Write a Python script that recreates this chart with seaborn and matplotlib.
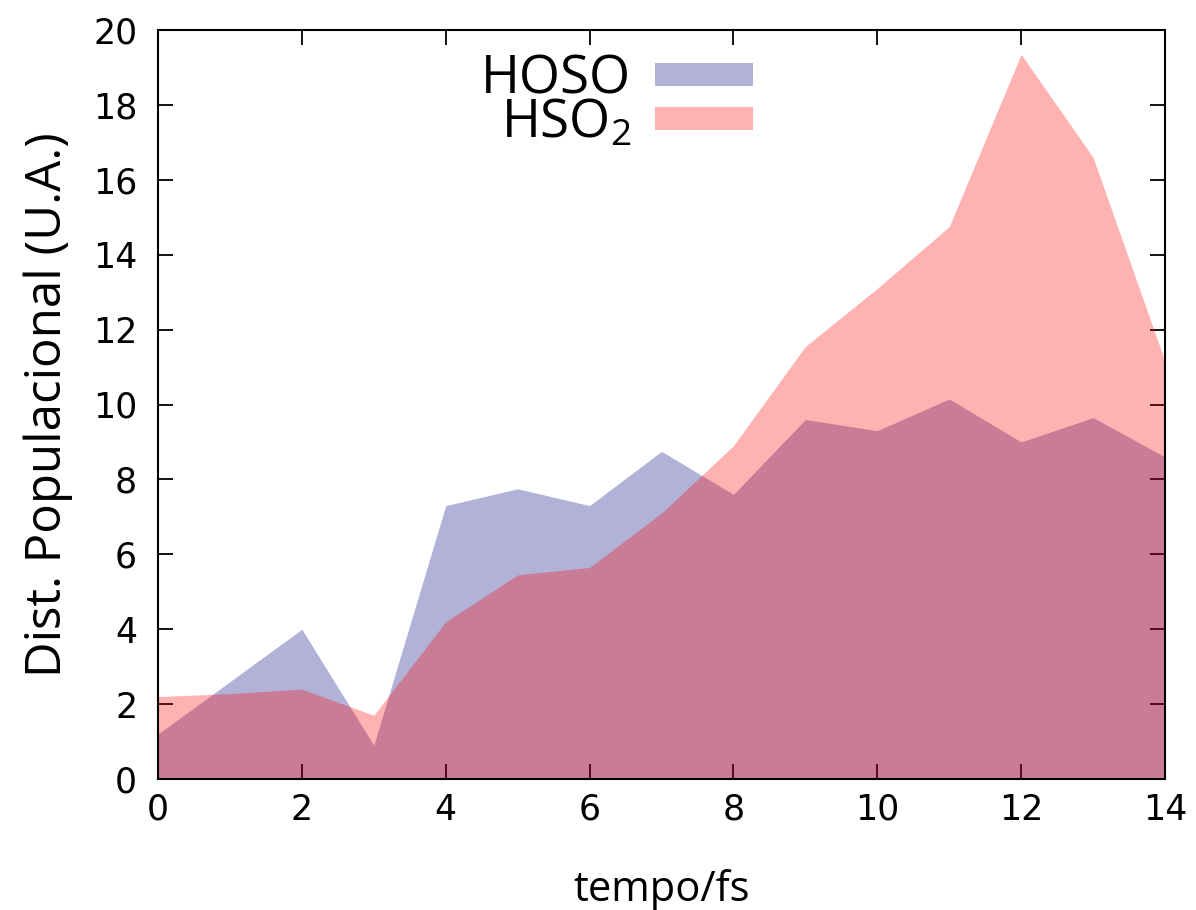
import matplotlib
matplotlib.use("Agg")
import matplotlib.pyplot as plt
from matplotlib.patches import Patch
import seaborn as sns
import pandas as pd

tempo = [0, 1, 2, 3, 4, 5, 6, 7, 8, 9, 10, 11, 12, 13, 14]
hoso = [1.2, 2.6, 4.0, 0.9, 7.3, 7.75, 7.3, 8.75, 7.6, 9.6, 9.3, 10.15, 9.0, 9.65, 8.6]
hso2 = [2.2, 2.28, 2.4, 1.7, 4.2, 5.45, 5.65, 7.1, 8.9, 11.55, 13.1, 14.75, 19.35, 16.6, 11.15]
xticks = [0, 2, 4, 6, 8, 10, 12, 14]
yticks = [0, 2, 4, 6, 8, 10, 12, 14, 16, 18, 20]
labels = ["HOSO", "HSO$_2$"]
colors = ["#000080", "#ff0000"]

sns.set_theme(style="ticks")
plt.rcParams['font.family'] = ['DejaVu Sans']
plt.rcParams['text.color'] = 'black'
plt.rcParams['axes.labelcolor'] = 'black'
plt.rcParams['mathtext.fontset'] = 'custom'
plt.rcParams['mathtext.rm'] = 'Open Sans'
plt.rcParams['mathtext.default'] = 'rm'

df = pd.DataFrame({"tempo": tempo, "HOSO": hoso, "HSO2": hso2})

fig = plt.figure(figsize=(11.96, 9.10), dpi=100)
ax = fig.add_axes([158/1196, 1 - 779/910, (1165-158)/1196, (779-30)/910])

for col, c in zip(["HOSO", "HSO2"], colors):
    sns.lineplot(data=df, x="tempo", y=col, ax=ax, color=c, linewidth=0)
    ax.fill_between(df["tempo"], 0, df[col], color=c, alpha=0.3, linewidth=0)

ax.set_xlim(0, 14)
ax.set_ylim(0, 20)
ax.set_xticks(xticks)
ax.set_yticks(yticks)
ax.tick_params(direction="in", length=11, width=1.3, top=True, right=True,
               labelsize=25, pad=10, colors="black")
ax.tick_params(axis="y", pad=15)
for s in ax.spines.values():
    s.set_color("black")
    s.set_linewidth(1.5)
ax.set_xlabel("tempo/fs", fontsize=30, labelpad=30, family="Open Sans")
ax.set_ylabel("Dist. Populacional (U.A.)", fontsize=35.5, labelpad=14, family="Open Sans")

handles = [Patch(facecolor=c, alpha=0.3, edgecolor="none") for c in colors]
ax.legend(handles, labels, loc="upper center", bbox_to_anchor=(0.456, 1.012),
          frameon=False, markerfirst=False, handlelength=1.87,
          handleheight=0.3, labelspacing=-0.18, handletextpad=0.45,
          borderpad=0.1, prop={"family": "Open Sans", "size": 38})

fig.savefig("out.png", dpi=100)
